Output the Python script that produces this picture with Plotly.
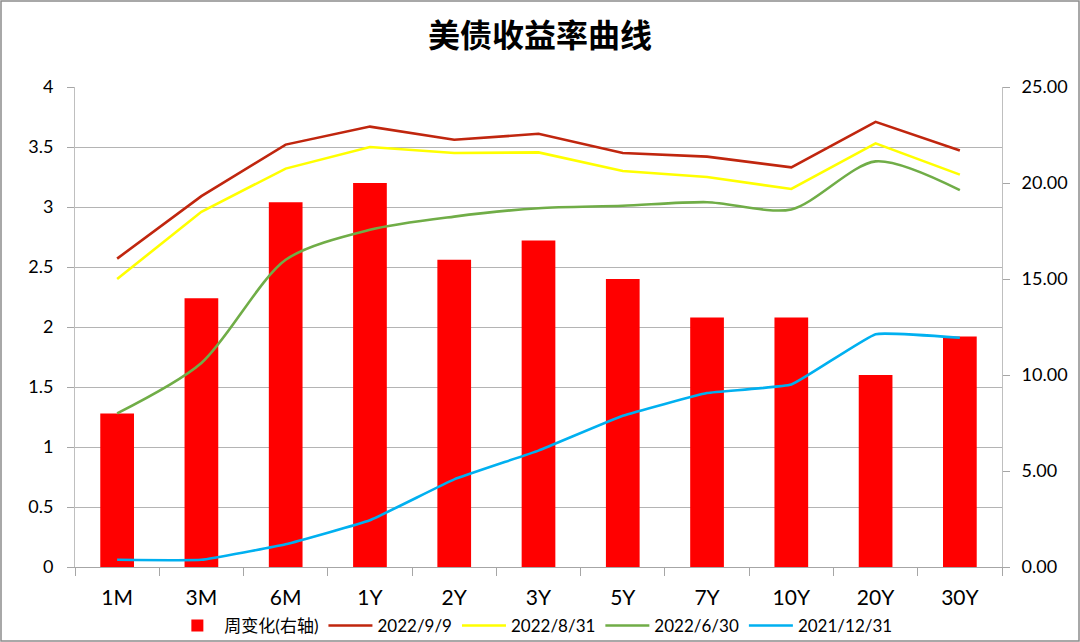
import plotly.graph_objects as go

# tenors on the x axis
tenors = ["1M", "3M", "6M", "1Y", "2Y", "3Y", "5Y", "7Y", "10Y", "20Y", "30Y"]

# weekly change, bp (right axis)
weekly_change = [8, 14, 19, 20, 16, 17, 15, 13, 13, 10, 12]

# yield curves, % (left axis)
y_2022_09_09 = [2.57, 3.09, 3.52, 3.67, 3.56, 3.61, 3.45, 3.42, 3.33, 3.71, 3.47]
y_2022_08_31 = [2.40, 2.96, 3.32, 3.50, 3.45, 3.455, 3.30, 3.25, 3.15, 3.53, 3.27]
y_2022_06_30 = [1.28, 1.70, 2.56, 2.81, 2.92, 2.99, 3.01, 3.04, 2.98, 3.38, 3.14]
y_2021_12_31 = [0.06, 0.06, 0.19, 0.39, 0.73, 0.97, 1.26, 1.45, 1.52, 1.94, 1.91]

FONT = "Lato, Noto Sans CJK SC, sans-serif"
W, H = 1080, 642
ML, MR, MT, MB = 75, 78, 87, 75

fig = go.Figure()

# bars on the base axis (right side) so the lines of the overlay sit on top
fig.add_trace(go.Bar(x=tenors, y=weekly_change, name="周变化(右轴)",
                     marker=dict(color="#FF0000", line=dict(width=0)),
                     width=0.4, yaxis="y"))

# (name, values, colour, shape, smoothing)
line_sets = [
    ("2022/9/9", y_2022_09_09, "#C0260E", "linear", 0),
    ("2022/8/31", y_2022_08_31, "#FFFF00", "linear", 0),
    ("2022/6/30", y_2022_06_30, "#70AD47", "spline", 0.8),
    ("2021/12/31", y_2021_12_31, "#00B0F0", "spline", 0.3),
]
for name, vals, color, shape, smooth in line_sets:
    line = dict(color=color, width=2.6, shape=shape)
    if shape == "spline":
        line["smoothing"] = smooth
    fig.add_trace(go.Scatter(x=tenors, y=vals, name=name, mode="lines",
                             line=line, yaxis="y2"))

pw = W - ML - MR
ph = H - MT - MB

fig.update_layout(
    width=W, height=H,
    margin=dict(l=ML, r=MR, t=MT, b=MB, autoexpand=False),
    paper_bgcolor="white", plot_bgcolor="white",
    font=dict(family=FONT, color="#000000"),
    title=dict(text="<b>美债收益率曲线</b>", x=0.5, xanchor="center",
               y=1 - 36 / H, yanchor="middle",
               font=dict(size=32, family="Noto Sans CJK SC", color="#000000")),
    xaxis=dict(type="category", showgrid=False, showline=True, linecolor="#A6A6A6",
               linewidth=1, ticks="outside", tickson="boundaries", ticklen=8,
               tickcolor="#A6A6A6", tickfont=dict(size=21), ticklabelstandoff=12,
               automargin=False),
    # right axis: bars
    yaxis=dict(range=[0, 25], dtick=5, side="right",
               showgrid=False, showline=True, linecolor="#BFBFBF",
               ticks="outside", ticklen=7, tickcolor="#A6A6A6",
               tickformat=".2f", tickfont=dict(size=18), zeroline=False,
               ticklabelstandoff=8, automargin=False),
    # left axis: yields, with the gridlines
    yaxis2=dict(range=[0, 4], dtick=0.5, overlaying="y", side="left",
                showgrid=True, gridcolor="#B4B4B4", gridwidth=1,
                showline=True, linecolor="#BFBFBF", ticks="outside",
                ticklen=7, tickcolor="#A6A6A6", tickfont=dict(size=18),
                zeroline=False, ticklabelstandoff=10, automargin=False),
    legend=dict(orientation="h", x=0.495, xanchor="center",
                y=-(626 - (H - MB)) / ph, yanchor="middle",
                font=dict(size=17), itemwidth=44, tracegroupgap=0,
                bgcolor="rgba(0,0,0,0)"),
    showlegend=True,
)

# outer frame round the whole picture
fig.add_shape(type="rect", xref="paper", yref="paper",
              x0=-(ML - 1) / pw, x1=1 + (MR - 1) / pw,
              y0=-(MB - 1) / ph, y1=1 + (MT - 1) / ph,
              line=dict(color="#8C8C8C", width=1.5), layer="below")

fig.write_html("out.html", config={"displayModeBar": False},
               post_script="document.body.style.margin='0';")
